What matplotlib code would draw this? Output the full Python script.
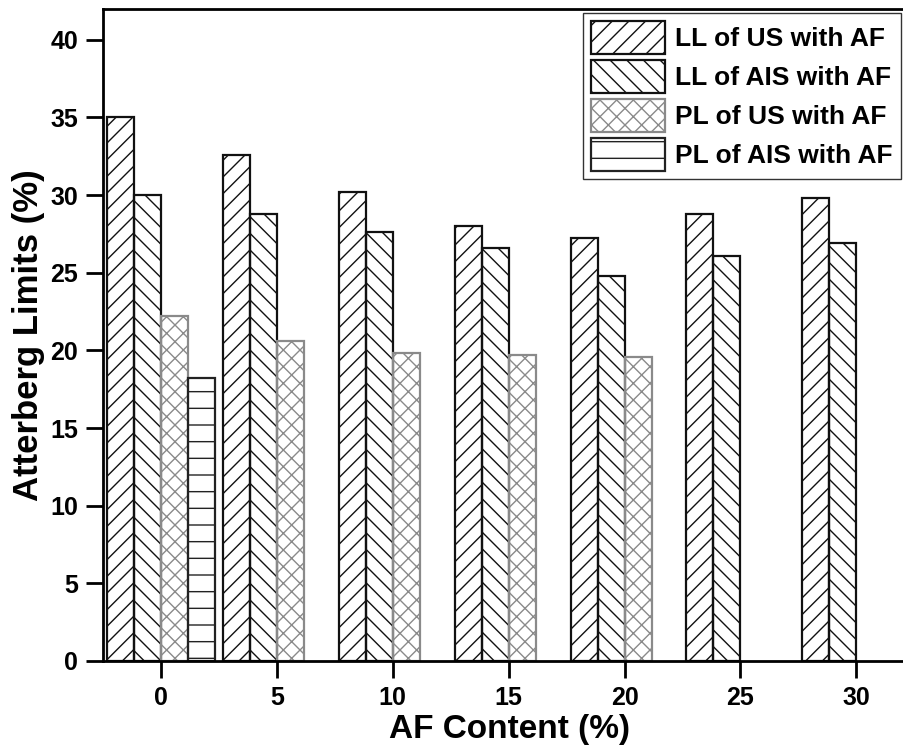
import numpy as np
import matplotlib.pyplot as plt

plt.rcParams['font.family'] = ['Liberation Sans', 'DejaVu Sans']
plt.rcParams['font.weight'] = 'bold'
plt.rcParams['hatch.linewidth'] = 1.0

# AF content (%) and Atterberg limits (%)
af = [0, 5, 10, 15, 20, 25, 30]
ll_us = [35.0, 32.6, 30.2, 28.0, 27.2, 28.8, 29.8]
ll_ais = [30.0, 28.8, 27.6, 26.6, 24.8, 26.1, 26.9]
pl_us = [22.2, 20.6, 19.8, 19.7, 19.6]
pl_ais = [18.2]

labels = ['LL of US with AF', 'LL of AIS with AF', 'PL of US with AF', 'PL of AIS with AF']

fig = plt.figure(figsize=(9.04, 7.49), dpi=100)
ax = fig.add_axes([0.114, 0.1175, 0.90, 0.871])

w = 1.165
x = np.array(af, dtype=float)
ax.bar(x[:len(ll_us)] - 1.5 * w, ll_us, w, fill=False, hatch='//', edgecolor='#111111', lw=1.6, label=labels[0])
ax.bar(x[:len(ll_ais)] - 0.5 * w, ll_ais, w, fill=False, hatch='\\\\', edgecolor='#111111', lw=1.6, label=labels[1])
ax.bar(x[:len(pl_us)] + 0.5 * w, pl_us, w, fill=False, hatch='xx', edgecolor='#8a8a8a', lw=1.6, label=labels[2])
ax.bar(x[:len(pl_ais)] + 1.5 * w, pl_ais, w, fill=False, hatch='-', edgecolor='#222222', lw=1.6, label=labels[3])

ax.set_xlim(-2.5, 32.6)
ax.set_ylim(0, 42)
ax.set_xticks(af)
ax.set_yticks(np.arange(0, 41, 5))
ax.tick_params(direction='out', length=12, width=2, labelsize=18, pad=6)
for s in ax.spines.values():
    s.set_linewidth(2)

ax.set_xlabel('AF Content (%)', fontsize=24, fontweight='bold', labelpad=3)
ax.set_ylabel('Atterberg Limits (%)', fontsize=25, fontweight='bold', labelpad=4)

leg = ax.legend(loc='upper left', bbox_to_anchor=(0.59, 0.993), fontsize=19, frameon=True,
                fancybox=False, edgecolor='black', handlelength=2.8, handleheight=1.55,
                handletextpad=0.4, labelspacing=0.22, borderpad=0.3, borderaxespad=0)
leg.get_frame().set_linewidth(1.0)

plt.savefig('out.png', dpi=100)
